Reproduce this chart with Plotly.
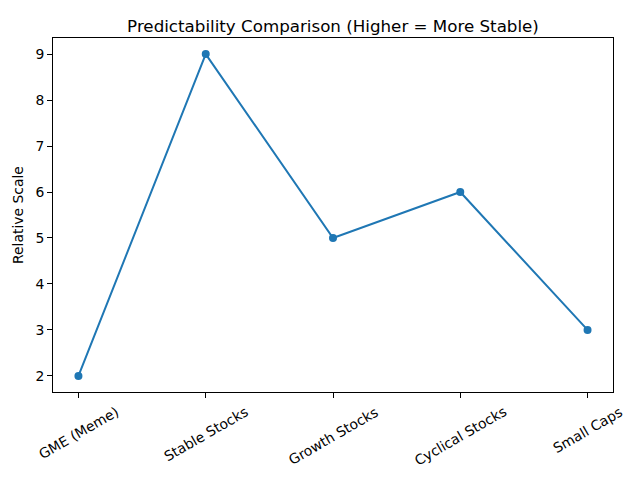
import plotly.graph_objects as go

categories = ["GME (Meme)", "Stable Stocks", "Growth Stocks", "Cyclical Stocks", "Small Caps"]
values = [2, 9, 5, 6, 3]
title_text = "Predictability Comparison (Higher = More Stable)"
ylabel = "Relative Scale"

FONT = "DejaVu Sans"
BLUE = "#1f77b4"
xs = list(range(len(categories)))

fig = go.Figure()
fig.add_trace(go.Scatter(
    x=xs, y=values, mode="lines+markers",
    line=dict(color=BLUE, width=2),
    marker=dict(color=BLUE, size=8),
    showlegend=False, hoverinfo="skip",
))

annotations = []
for i, c in enumerate(categories):
    annotations.append(dict(
        x=i, y=0, xref="x", yref="paper", text=c, showarrow=False,
        textangle=-30, xanchor="center", yanchor="top", yshift=-9,
        font=dict(family=FONT, size=13.9, color="black"),
    ))
annotations.append(dict(
    x=0, y=0.5, xref="paper", yref="paper", text=ylabel, showarrow=False,
    textangle=-90, xanchor="center", yanchor="middle", xshift=-35,
    font=dict(family=FONT, size=13.9, color="black"),
))

fig.update_layout(
    width=640, height=480,
    margin=dict(l=53, r=27, t=38, b=88),
    paper_bgcolor="white", plot_bgcolor="white",
    font=dict(family=FONT, size=13.9, color="black"),
    title=dict(text=title_text, x=0.5, xref="paper", xanchor="center",
               y=1, yref="paper", yanchor="bottom", pad=dict(b=6),
               font=dict(family=FONT, size=16.7, color="black")),
    annotations=annotations,
    xaxis=dict(range=[-0.2, 4.2], tickvals=xs, showticklabels=False,
               ticks="outside", ticklen=5, tickwidth=1, tickcolor="black",
               showline=True, linecolor="black", linewidth=1, mirror=True,
               showgrid=False, zeroline=False),
    yaxis=dict(range=[1.65, 9.35], tickvals=[2, 3, 4, 5, 6, 7, 8, 9],
               ticks="outside", ticklen=5, tickwidth=1, tickcolor="black",
               showline=True, linecolor="black", linewidth=1, mirror=True,
               showgrid=False, zeroline=False,
               tickfont=dict(family=FONT, size=13.9, color="black")),
)

fig.write_html("out.html")
